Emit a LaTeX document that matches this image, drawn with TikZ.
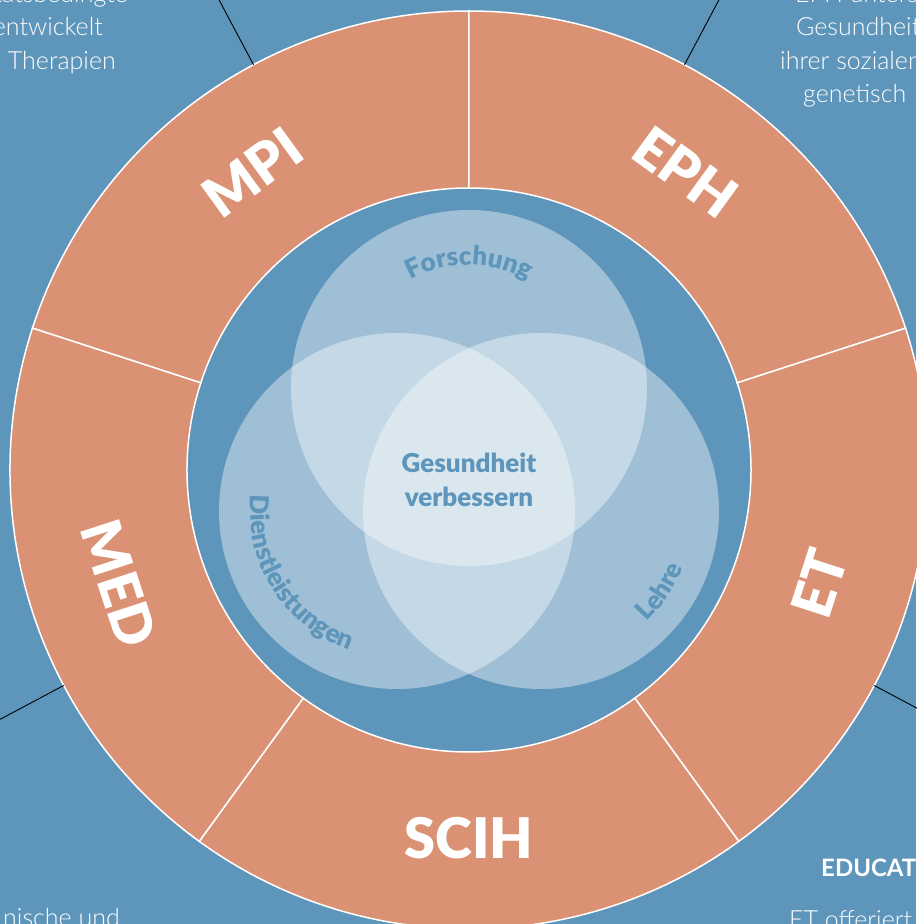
\documentclass[tikz,border=0pt]{standalone}
\usepackage{fontspec}
\setmainfont{Lato}
\newfontfamily\lightfont{Lato Light}
\newfontfamily\heavyfont{Lato Black}
\usetikzlibrary{decorations.text}
\definecolor{bgblue}{HTML}{5E95BA}
\definecolor{segorange}{HTML}{DB9174}
\newcommand{\vlblfont}{\heavyfont\fontsize{26}{26}\selectfont}
\tikzset{seg/.style={fill=segorange, draw=white, line width=1.5pt}}
\tikzset{seglbl/.style={text=white, font=\heavyfont\fontsize{56}{56}\selectfont}}
\tikzset{venn/.style={fill=white, fill opacity=0.4}}
\tikzset{vlbl/.style={decorate, decoration={text along path, text align=center, text color=bgblue}}}
\tikzset{side/.style={text=white, inner sep=0pt, font=\lightfont\fontsize{25}{34}\selectfont}}
\tikzset{sideb/.style={side, font=\fontsize{24}{34}\selectfont\bfseries}}

\begin{document}
\begin{tikzpicture}[x=1pt, y=1pt, leader/.style={draw=black, line width=0.9pt}, goal/.style={text=bgblue, align=center, font=\heavyfont\fontsize{26}{34}\selectfont}]
    \useasboundingbox (-469,-454) rectangle (447,470);
    \fill[bgblue] (-469,-454) rectangle (447,470);

    \draw[seg] (90:459) arc[start angle=90, end angle=162, radius=459] -- (162:282) arc[start angle=162, end angle=90, radius=282] -- cycle;
    \draw[seg] (18:459) arc[start angle=18, end angle=90, radius=459] -- (90:282) arc[start angle=90, end angle=18, radius=282] -- cycle;
    \draw[seg] (-54:459) arc[start angle=-54, end angle=18, radius=459] -- (18:282) arc[start angle=18, end angle=-54, radius=282] -- cycle;
    \draw[seg] (-126:459) arc[start angle=-126, end angle=-54, radius=459] -- (-54:282) arc[start angle=-54, end angle=-126, radius=282] -- cycle;
    \draw[seg] (162:459) arc[start angle=162, end angle=234, radius=459] -- (234:282) arc[start angle=234, end angle=162, radius=282] -- cycle;

    \node[seglbl, rotate=36] (mpi) at (126:368) {MPI};
    \node[seglbl, rotate=-36] (eph) at (54:368) {EPH};
    \node[seglbl, rotate=72] (et) at (-18:368) {ET};
    \node[seglbl] (scih) at (-90:368) {SCIH};
    \node[seglbl, rotate=-72] (med) at (198:368) {MED};

    \coordinate (mpitip) at (118:459);
    \coordinate (mpiout) at (118:560);
    \coordinate (ephtip) at (62:459);
    \coordinate (ephout) at (62:560);
    \coordinate (medtip) at (208:459);
    \coordinate (medout) at (208:560);
    \coordinate (ettip) at (-28:459);
    \coordinate (etout) at (-28:560);
    \draw[leader] (mpitip) -- (mpiout);
    \draw[leader] (ephtip) -- (ephout);
    \draw[leader] (medtip) -- (medout);
    \draw[leader] (ettip) -- (etout);

    \fill[venn] (0,82) circle (178);
    \fill[venn] (-72,-41) circle (178);
    \fill[venn] (72,-41) circle (178);

    \path[vlbl, decoration={text={|\vlblfont|Forschung}}] ([shift={(0,82)}]130:123) arc[start angle=130, end angle=50, radius=123];
    \path[vlbl, decoration={text={|\vlblfont|Dienstleistungen}}] ([shift={(-72,-41)}]155:147) arc[start angle=155, end angle=270, radius=147];
    \path[vlbl, decoration={text={|\vlblfont|Lehre}}] ([shift={(72,-41)}]-75:153) arc[start angle=-75, end angle=7, radius=153];

    \node[goal] (goal) at (0,-10) {Gesundheit\\verbessern};

    \node[side, anchor=base east] (tl1) at (-341,467) {tätsbedingte};
    \node[side, anchor=base east] (tl2) at (-366,434) {entwickelt};
    \node[side, anchor=base east] (tl3) at (-353,400) {Therapien};

    \node[side, anchor=base west] (tr1) at (326,467) {EPH unters};
    \node[side, anchor=base west] (tr2) at (327,434) {Gesundheit};
    \node[side, anchor=base west] (tr3) at (311,400) {ihrer sozialen};
    \node[side, anchor=base west] (tr4) at (334,367) {genetisch};

    \node[side, anchor=base east] (bl1) at (-349,-456) {nische und};

    \node[sideb, anchor=base west] (br1) at (352,-406) {EDUCATION};
    \node[side, anchor=base west] (br2) at (320,-458) {ET offeriert};
\end{tikzpicture}
\end{document}
